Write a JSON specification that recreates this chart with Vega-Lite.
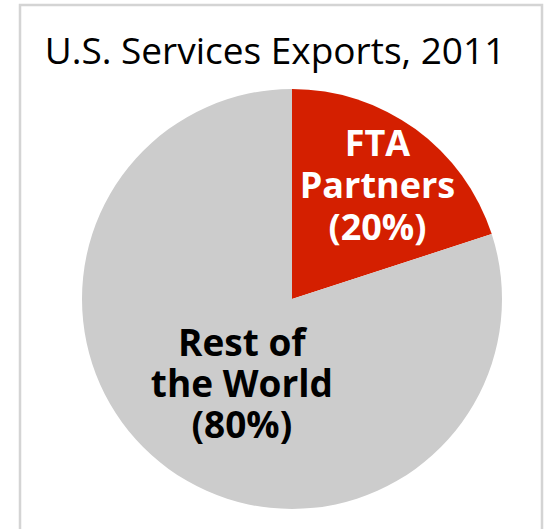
{
  "$schema": "https://vega.github.io/schema/vega-lite/v6.json",
  "width": 522,
  "height": 530,
  "autosize": {"type": "none"},
  "padding": {"left": 20, "top": 5, "right": 6, "bottom": 0},
  "background": "white",
  "view": {"stroke": "#d4d4d4", "strokeWidth": 2.5, "fill": null},
  "title": {
    "text": "U.S. Services Exports, 2011",
    "frame": "group",
    "anchor": "middle",
    "offset": -67,
    "dx": -6,
    "font": "Open Sans",
    "fontSize": 37,
    "fontWeight": "normal",
    "color": "#000000"
  },
  "data": {
    "values": [
      {"category": "FTA Partners", "share": 20, "label": "FTA\nPartners\n(20%)"},
      {"category": "Rest of the World", "share": 80, "label": "Rest of\nthe World\n(80%)"}
    ]
  },
  "encoding": {
    "theta": {"field": "share", "type": "quantitative", "stack": true},
    "order": {"field": "category", "sort": "ascending"}
  },
  "layer": [
    {
      "mark": {"type": "arc", "outerRadius": 210, "xOffset": 11, "yOffset": 29},
      "encoding": {
        "color": {
          "field": "category",
          "type": "nominal",
          "scale": {"domain": ["FTA Partners", "Rest of the World"], "range": ["#d41f00", "#cccccc"]},
          "legend": null
        }
      }
    },
    {
      "mark": {"type": "text", "radius": 125, "xOffset": 11, "yOffset": 29, "dx": 12, "dy": -42, "font": "Open Sans", "fontWeight": "bold", "fontSize": 36, "lineBreak": "\n", "lineHeight": 42, "baseline": "alphabetic", "align": "center", "color": "white"},
      "encoding": {
        "text": {"condition": {"test": "datum.category == 'FTA Partners'", "field": "label"}, "value": ""}
      }
    },
    {
      "mark": {"type": "text", "radius": 121, "xOffset": 11, "yOffset": 29, "dx": 21, "dy": -41, "font": "Open Sans", "fontWeight": "bold", "fontSize": 37, "lineBreak": "\n", "lineHeight": 41, "baseline": "alphabetic", "align": "center", "color": "black"},
      "encoding": {
        "text": {"condition": {"test": "datum.category == 'Rest of the World'", "field": "label"}, "value": ""}
      }
    }
  ]
}
